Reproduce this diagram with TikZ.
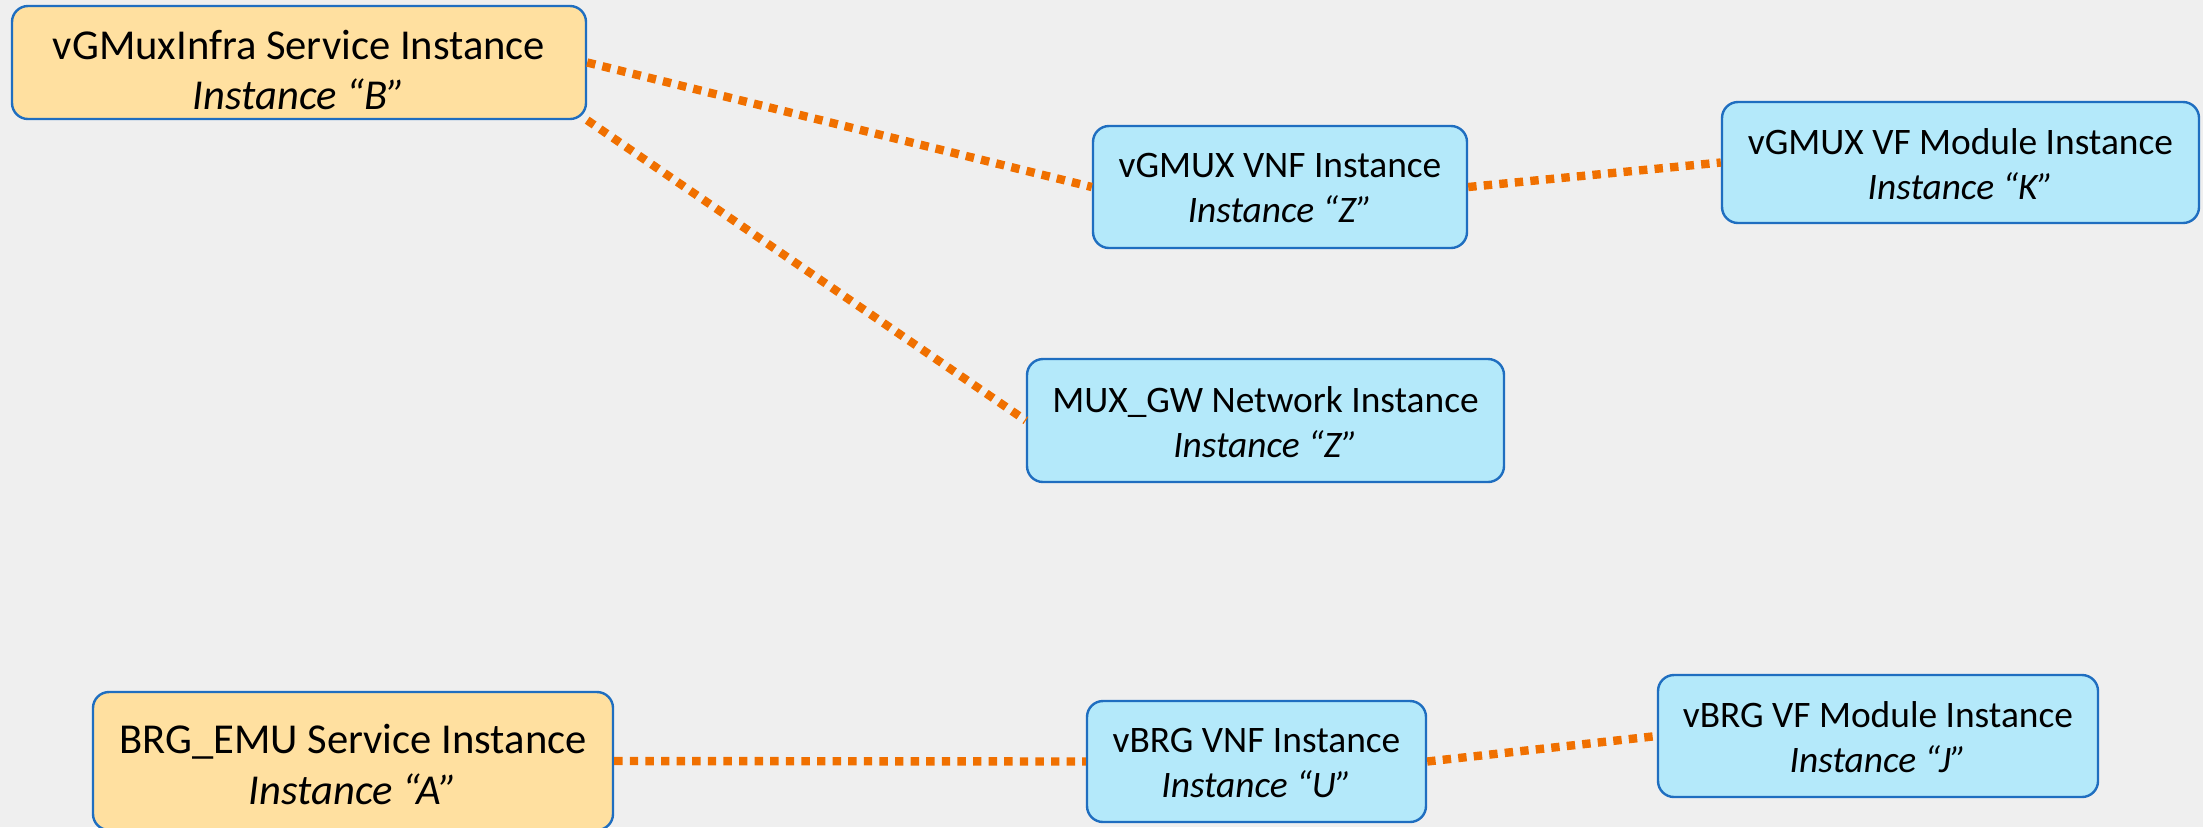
\documentclass[tikz,border=0pt]{standalone}
\usepackage{fontspec}
\setmainfont{Carlito}
\definecolor{bgc}{HTML}{EFEFEF}
\definecolor{orfill}{HTML}{FFE0A0}
\definecolor{blfill}{HTML}{B4E9FA}
\definecolor{bord}{HTML}{1F6EC0}
\definecolor{linkc}{HTML}{F07000}
\tikzset{
  box/.style={draw=bord, line width=1.2pt, rounded corners=8pt, inner sep=0pt},
  svcbox/.style={box, fill=orfill},
  instbox/.style={box, fill=blfill},
  lbl/.style={align=center, inner sep=0pt},
  big/.style={lbl, font=\fontsize{21.3pt}{25pt}\selectfont},
  mid/.style={lbl, font=\fontsize{21.3pt}{25.5pt}\selectfont},
  small/.style={lbl, font=\fontsize{18.7pt}{22.5pt}\selectfont},
  link/.style={draw=linkc, line width=4.2pt, dash pattern=on 4.2pt off 3.6pt}
}
\begin{document}
\begin{tikzpicture}[x=0.5pt,y=-0.5pt]
\useasboundingbox (0,0) rectangle (2203,827);
\clip (0,0) rectangle (2203,827);
\fill[bgc] (0,0) rectangle (2203,827);
% boxes
\node[svcbox, minimum width=287pt, minimum height=56.5pt] (b1) at (299,62.5) {};
\node[instbox, minimum width=187pt, minimum height=61pt] (vnfz) at (1280,187) {};
\node[instbox, minimum width=238.5pt, minimum height=60.5pt] (vfk) at (1960.5,162.5) {};
\node[instbox, minimum width=238.5pt, minimum height=61.5pt] (mux) at (1265.5,420.5) {};
\node[svcbox, minimum width=260pt, minimum height=69pt] (ba) at (353,761) {};
\node[instbox, minimum width=169.5pt, minimum height=60.5pt] (vnfu) at (1256.5,761.5) {};
\node[instbox, minimum width=220pt, minimum height=61pt] (vfj) at (1878,736) {};
% texts
\node[big, yshift=-3.9pt] (b1t) at (b1) {vGMuxInfra Service Instance\\\textit{Instance “B”}};
\node[small, yshift=-0.7pt] (vnfzt) at (vnfz) {vGMUX VNF Instance\\\textit{Instance “Z”}};
\node[small, yshift=-0.7pt] (vfkt) at (vfk) {vGMUX VF Module Instance\\\textit{Instance “K”}};
\node[small, yshift=-0.7pt] (muxt) at (mux) {MUX\_GW Network Instance\\\textit{Instance “Z”}};
\node[mid, yshift=-1.5pt] (bat) at (ba) {BRG\_EMU Service Instance\\\textit{Instance “A”}};
\node[small, yshift=-0.7pt] (vnfut) at (vnfu) {vBRG VNF Instance\\\textit{Instance “U”}};
\node[small, yshift=-0.7pt] (vfjt) at (vfj) {vBRG VF Module Instance\\\textit{Instance “J”}};
% links
\draw[link] (b1.east) -- (vnfz.west);
\draw[link] (b1.south east) -- (mux.west);
\draw[link] (vnfz.east) -- (vfk.west);
\draw[link] (ba.east) -- (vnfu.west);
\draw[link] (vnfu.east) -- (vfj.west);
\end{tikzpicture}
\end{document}
